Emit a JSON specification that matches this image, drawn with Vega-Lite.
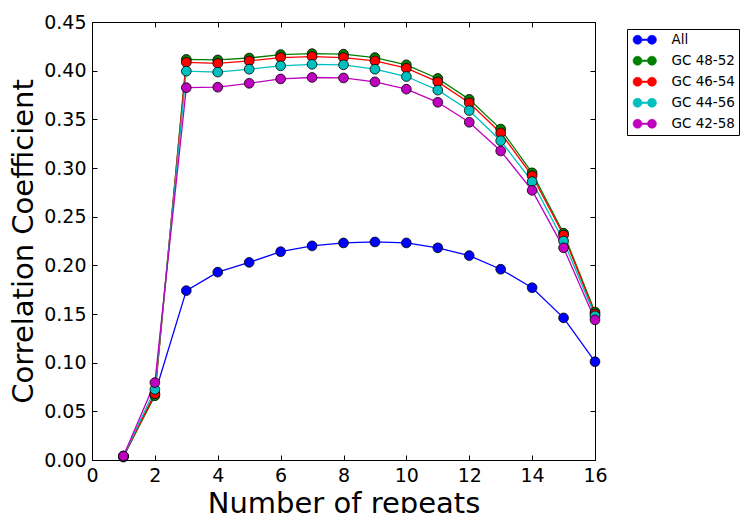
{
  "$schema": "https://vega.github.io/schema/vega-lite/v6.json",
  "autosize": "none",
  "width": 503,
  "height": 438,
  "padding": {"left": 92, "top": 22, "right": 146, "bottom": 53},
  "background": "white",
  "config": {
    "font": "DejaVu Sans",
    "view": {"stroke": null},
    "axis": {
      "domainColor": "black",
      "domainWidth": 1,
      "tickColor": "black",
      "tickSize": -5,
      "tickWidth": 1,
      "grid": false,
      "labelFont": "DejaVu Sans",
      "labelFontSize": 19,
      "labelColor": "black",
      "titleFont": "DejaVu Sans",
      "titleFontSize": 29,
      "titleFontWeight": "normal",
      "titleColor": "black"
    }
  },
  "data": {
    "values": [
      {"x": 1, "v": 0.003, "s": "All", "k": 0},
      {"x": 2, "v": 0.068, "s": "All", "k": 0},
      {"x": 3, "v": 0.174, "s": "All", "k": 0},
      {"x": 4, "v": 0.193, "s": "All", "k": 0},
      {"x": 5, "v": 0.203, "s": "All", "k": 0},
      {"x": 6, "v": 0.214, "s": "All", "k": 0},
      {"x": 7, "v": 0.220, "s": "All", "k": 0},
      {"x": 8, "v": 0.223, "s": "All", "k": 0},
      {"x": 9, "v": 0.224, "s": "All", "k": 0},
      {"x": 10, "v": 0.223, "s": "All", "k": 0},
      {"x": 11, "v": 0.218, "s": "All", "k": 0},
      {"x": 12, "v": 0.210, "s": "All", "k": 0},
      {"x": 13, "v": 0.196, "s": "All", "k": 0},
      {"x": 14, "v": 0.177, "s": "All", "k": 0},
      {"x": 15, "v": 0.146, "s": "All", "k": 0},
      {"x": 16, "v": 0.101, "s": "All", "k": 0},
      {"x": 1, "v": 0.004, "s": "GC 48-52", "k": 1},
      {"x": 2, "v": 0.066, "s": "GC 48-52", "k": 1},
      {"x": 3, "v": 0.4115, "s": "GC 48-52", "k": 1},
      {"x": 4, "v": 0.411, "s": "GC 48-52", "k": 1},
      {"x": 5, "v": 0.413, "s": "GC 48-52", "k": 1},
      {"x": 6, "v": 0.4165, "s": "GC 48-52", "k": 1},
      {"x": 7, "v": 0.4175, "s": "GC 48-52", "k": 1},
      {"x": 8, "v": 0.417, "s": "GC 48-52", "k": 1},
      {"x": 9, "v": 0.4135, "s": "GC 48-52", "k": 1},
      {"x": 10, "v": 0.406, "s": "GC 48-52", "k": 1},
      {"x": 11, "v": 0.392, "s": "GC 48-52", "k": 1},
      {"x": 12, "v": 0.3705, "s": "GC 48-52", "k": 1},
      {"x": 13, "v": 0.340, "s": "GC 48-52", "k": 1},
      {"x": 14, "v": 0.295, "s": "GC 48-52", "k": 1},
      {"x": 15, "v": 0.233, "s": "GC 48-52", "k": 1},
      {"x": 16, "v": 0.152, "s": "GC 48-52", "k": 1},
      {"x": 1, "v": 0.004, "s": "GC 46-54", "k": 2},
      {"x": 2, "v": 0.068, "s": "GC 46-54", "k": 2},
      {"x": 3, "v": 0.4085, "s": "GC 46-54", "k": 2},
      {"x": 4, "v": 0.4075, "s": "GC 46-54", "k": 2},
      {"x": 5, "v": 0.410, "s": "GC 46-54", "k": 2},
      {"x": 6, "v": 0.4135, "s": "GC 46-54", "k": 2},
      {"x": 7, "v": 0.4145, "s": "GC 46-54", "k": 2},
      {"x": 8, "v": 0.4135, "s": "GC 46-54", "k": 2},
      {"x": 9, "v": 0.410, "s": "GC 46-54", "k": 2},
      {"x": 10, "v": 0.4025, "s": "GC 46-54", "k": 2},
      {"x": 11, "v": 0.3885, "s": "GC 46-54", "k": 2},
      {"x": 12, "v": 0.367, "s": "GC 46-54", "k": 2},
      {"x": 13, "v": 0.336, "s": "GC 46-54", "k": 2},
      {"x": 14, "v": 0.292, "s": "GC 46-54", "k": 2},
      {"x": 15, "v": 0.231, "s": "GC 46-54", "k": 2},
      {"x": 16, "v": 0.150, "s": "GC 46-54", "k": 2},
      {"x": 1, "v": 0.004, "s": "GC 44-56", "k": 3},
      {"x": 2, "v": 0.0725, "s": "GC 44-56", "k": 3},
      {"x": 3, "v": 0.3995, "s": "GC 44-56", "k": 3},
      {"x": 4, "v": 0.3985, "s": "GC 44-56", "k": 3},
      {"x": 5, "v": 0.4015, "s": "GC 44-56", "k": 3},
      {"x": 6, "v": 0.405, "s": "GC 44-56", "k": 3},
      {"x": 7, "v": 0.4065, "s": "GC 44-56", "k": 3},
      {"x": 8, "v": 0.406, "s": "GC 44-56", "k": 3},
      {"x": 9, "v": 0.4015, "s": "GC 44-56", "k": 3},
      {"x": 10, "v": 0.394, "s": "GC 44-56", "k": 3},
      {"x": 11, "v": 0.380, "s": "GC 44-56", "k": 3},
      {"x": 12, "v": 0.359, "s": "GC 44-56", "k": 3},
      {"x": 13, "v": 0.328, "s": "GC 44-56", "k": 3},
      {"x": 14, "v": 0.286, "s": "GC 44-56", "k": 3},
      {"x": 15, "v": 0.225, "s": "GC 44-56", "k": 3},
      {"x": 16, "v": 0.148, "s": "GC 44-56", "k": 3},
      {"x": 1, "v": 0.004, "s": "GC 42-58", "k": 4},
      {"x": 2, "v": 0.0795, "s": "GC 42-58", "k": 4},
      {"x": 3, "v": 0.3825, "s": "GC 42-58", "k": 4},
      {"x": 4, "v": 0.383, "s": "GC 42-58", "k": 4},
      {"x": 5, "v": 0.387, "s": "GC 42-58", "k": 4},
      {"x": 6, "v": 0.3915, "s": "GC 42-58", "k": 4},
      {"x": 7, "v": 0.393, "s": "GC 42-58", "k": 4},
      {"x": 8, "v": 0.3925, "s": "GC 42-58", "k": 4},
      {"x": 9, "v": 0.3885, "s": "GC 42-58", "k": 4},
      {"x": 10, "v": 0.381, "s": "GC 42-58", "k": 4},
      {"x": 11, "v": 0.3675, "s": "GC 42-58", "k": 4},
      {"x": 12, "v": 0.347, "s": "GC 42-58", "k": 4},
      {"x": 13, "v": 0.3175, "s": "GC 42-58", "k": 4},
      {"x": 14, "v": 0.277, "s": "GC 42-58", "k": 4},
      {"x": 15, "v": 0.218, "s": "GC 42-58", "k": 4},
      {"x": 16, "v": 0.144, "s": "GC 42-58", "k": 4}
    ]
  },
  "layer": [
    {
      "mark": {"type": "line", "strokeWidth": 1.3, "clip": false},
      "encoding": {
        "x": {"field": "x", "type": "quantitative", "scale": {"domain": [0, 16], "nice": false},
          "axis": {"orient": "bottom", "values": [0, 2, 4, 6, 8, 10, 12, 14, 16], "format": "d", "labelPadding": 11, "title": "Number of repeats", "titlePadding": 4, "labelFlush": false}},
        "y": {"field": "v", "type": "quantitative", "scale": {"domain": [0, 0.45], "nice": false, "zero": false},
          "axis": {"orient": "left", "values": [0, 0.05, 0.1, 0.15, 0.2, 0.25, 0.3, 0.35, 0.4, 0.45], "format": ".2f", "labelPadding": 11, "title": "Correlation Coefficient", "titlePadding": 5, "labelFlush": false}},
        "color": {"field": "s", "type": "nominal",
          "scale": {"domain": ["All", "GC 48-52", "GC 46-54", "GC 44-56", "GC 42-58"], "range": ["#0000ff", "#008000", "#ff0000", "#00bfbf", "#bf00bf"]},
          "legend": {
            "title": null,
            "orient": "none",
            "legendX": 535,
            "legendY": 7,
            "strokeColor": "black",
            "fillColor": "white",
            "padding": 4,
            "cornerRadius": 0,
            "symbolType": "M -2.34 0 A 0.9 0.9 0 1 0 -0.54 0 A 0.9 0.9 0 1 0 -2.34 0 Z M 0.54 0 A 0.9 0.9 0 1 0 2.34 0 A 0.9 0.9 0 1 0 0.54 0 Z M -0.6 -0.13 L 0.6 -0.13 L 0.6 0.13 L -0.6 0.13 Z",
            "symbolSize": 100,
            "symbolStrokeColor": "black",
            "symbolStrokeWidth": 0.6,
            "symbolOffset": 7,
            "labelOffset": 20,
            "labelFont": "DejaVu Sans",
            "labelFontSize": 13.5,
            "labelColor": "black",
            "rowPadding": 6
          }},
        "detail": {"field": "s"}
      }
    },
    {
      "mark": {"type": "point", "filled": true, "opacity": 1, "size": 95, "stroke": "black", "strokeWidth": 0.8, "clip": false},
      "encoding": {
        "x": {"field": "x", "type": "quantitative",
          "axis": {"orient": "top", "values": [0, 2, 4, 6, 8, 10, 12, 14, 16], "labels": false, "title": null}},
        "y": {"field": "v", "type": "quantitative",
          "axis": {"orient": "right", "values": [0, 0.05, 0.1, 0.15, 0.2, 0.25, 0.3, 0.35, 0.4, 0.45], "labels": false, "title": null}},
        "color": {"field": "s", "type": "nominal"},
        "order": {"field": "k", "type": "quantitative"}
      }
    }
  ],
  "resolve": {"axis": {"x": "independent", "y": "independent"}}
}
